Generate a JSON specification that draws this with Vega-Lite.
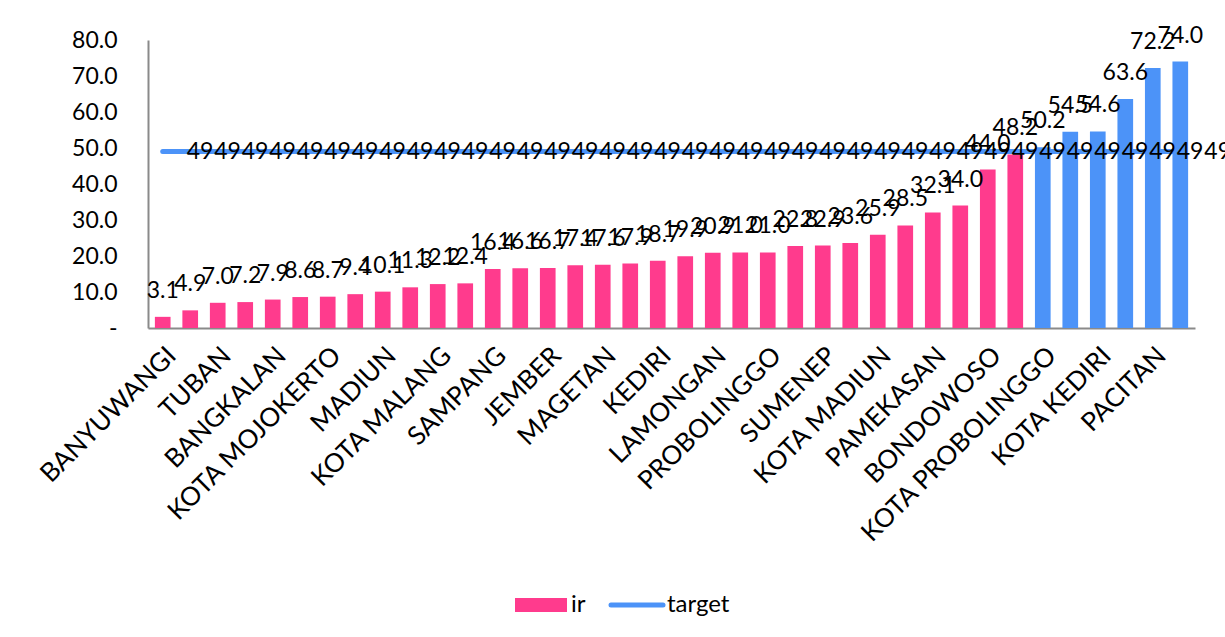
{
  "$schema": "https://vega.github.io/schema/vega-lite/v6.json",
  "width": 1047,
  "height": 288,
  "autosize": {"type": "none"},
  "padding": {"left": 148, "top": 40, "right": 30, "bottom": 309},
  "background": "white",
  "config": {
    "font": "Lato",
    "view": {"stroke": null},
    "axisY": {"labelOverlap": false, "labelSeparation": 0}
  },
  "data": {
    "values": [
      {"name": "BANYUWANGI", "ir": 3.1, "target": 49},
      {"name": "GRESIK", "ir": 4.9, "target": 49},
      {"name": "TUBAN", "ir": 7.0, "target": 49},
      {"name": "SIDOARJO", "ir": 7.2, "target": 49},
      {"name": "BANGKALAN", "ir": 7.9, "target": 49},
      {"name": "KOTA SURABAYA", "ir": 8.6, "target": 49},
      {"name": "KOTA MOJOKERTO", "ir": 8.7, "target": 49},
      {"name": "NGAWI", "ir": 9.4, "target": 49},
      {"name": "MADIUN", "ir": 10.1, "target": 49},
      {"name": "BOJONEGORO", "ir": 11.3, "target": 49},
      {"name": "KOTA MALANG", "ir": 12.2, "target": 49},
      {"name": "KOTA BATU", "ir": 12.4, "target": 49},
      {"name": "SAMPANG", "ir": 16.4, "target": 49},
      {"name": "PASURUAN", "ir": 16.6, "target": 49},
      {"name": "JEMBER", "ir": 16.7, "target": 49},
      {"name": "LUMAJANG", "ir": 17.4, "target": 49},
      {"name": "MAGETAN", "ir": 17.6, "target": 49},
      {"name": "JOMBANG", "ir": 17.9, "target": 49},
      {"name": "KEDIRI", "ir": 18.7, "target": 49},
      {"name": "NGANJUK", "ir": 19.9, "target": 49},
      {"name": "LAMONGAN", "ir": 20.9, "target": 49},
      {"name": "MALANG", "ir": 21.0, "target": 49},
      {"name": "PROBOLINGGO", "ir": 21.0, "target": 49},
      {"name": "TULUNGAGUNG", "ir": 22.8, "target": 49},
      {"name": "SUMENEP", "ir": 22.9, "target": 49},
      {"name": "MOJOKERTO", "ir": 23.6, "target": 49},
      {"name": "KOTA MADIUN", "ir": 25.9, "target": 49},
      {"name": "SITUBONDO", "ir": 28.5, "target": 49},
      {"name": "PAMEKASAN", "ir": 32.1, "target": 49},
      {"name": "BLITAR", "ir": 34.0, "target": 49},
      {"name": "BONDOWOSO", "ir": 44.0, "target": 49},
      {"name": "KOTA PASURUAN", "ir": 48.2, "target": 49},
      {"name": "KOTA PROBOLINGGO", "ir": 50.2, "target": 49},
      {"name": "TRENGGALEK", "ir": 54.5, "target": 49},
      {"name": "KOTA KEDIRI", "ir": 54.6, "target": 49},
      {"name": "PONOROGO", "ir": 63.6, "target": 49},
      {"name": "PACITAN", "ir": 72.2, "target": 49},
      {"name": "KOTA BLITAR", "ir": 74.0, "target": 49}
    ]
  },
  "encoding": {
    "x": {
      "field": "name",
      "type": "nominal",
      "sort": null,
      "title": null,
      "scale": {"paddingInner": 0.43, "paddingOuter": 0.25},
      "axis": {
        "values": ["BANYUWANGI", "TUBAN", "BANGKALAN", "KOTA MOJOKERTO", "MADIUN", "KOTA MALANG", "SAMPANG", "JEMBER", "MAGETAN", "KEDIRI", "LAMONGAN", "PROBOLINGGO", "SUMENEP", "KOTA MADIUN", "PAMEKASAN", "BONDOWOSO", "KOTA PROBOLINGGO", "KOTA KEDIRI", "PACITAN"],
        "labelAngle": -45,
        "labelAlign": "right",
        "labelBaseline": "top",
        "labelFont": "Lato",
        "labelFontSize": 26,
        "labelColor": "#000000",
        "labelPadding": 14,
        "labelLimit": 400,
        "labelOverlap": false,
        "ticks": false,
        "grid": false,
        "domainColor": "#8a8a8a",
        "domainWidth": 2
      }
    },
    "y": {
      "field": "ir",
      "type": "quantitative",
      "title": null,
      "scale": {"domain": [0, 80], "nice": false},
      "axis": {
        "values": [0, 10, 20, 30, 40, 50, 60, 70, 80],
        "labelExpr": "datum.value === 0 ? '-\u00a0\u00a0\u00a0\u00a0' : format(datum.value, '.1f')",
        "labelOverlap": false,
        "labelFont": "Lato",
        "labelFontSize": 23,
        "labelColor": "#000000",
        "labelPadding": 31,
        "ticks": false,
        "grid": false,
        "domainColor": "#8a8a8a",
        "domainWidth": 2
      }
    }
  },
  "layer": [
    {
      "mark": {"type": "bar"},
      "encoding": {
        "color": {
          "condition": {"test": "datum.ir > datum.target", "value": "#4C93F8"},
          "datum": "ir",
          "type": "nominal",
          "scale": {"domain": ["ir", "target"], "range": ["#FF3B8D", "#4C93F8"]},
          "legend": {
            "orient": "none",
            "legendX": 381,
            "legendY": 553,
            "direction": "horizontal",
            "title": null,
            "labelFont": "Lato",
            "labelFontSize": 24,
            "labelColor": "#000000",
            "labelOffset": 18,
            "columnPadding": 15,
            "symbolSize": 2704,
            "encode": {
              "symbols": {
                "update": {
                  "shape": {"signal": "datum.value === 'ir' ? 'M-1,-0.27H1V0.27H-1Z' : 'M-1,0H1'"},
                  "fill": {"signal": "datum.value === 'ir' ? '#FF3B8D' : 'transparent'"},
                  "stroke": {"signal": "datum.value === 'ir' ? 'transparent' : '#4C93F8'"},
                  "strokeWidth": {"signal": "datum.value === 'ir' ? 0 : 5"},
                  "strokeCap": {"value": "round"},
                  "opacity": {"value": 1}
                }
              }
            }
          }
        }
      }
    },
    {
      "mark": {"type": "line", "strokeWidth": 5, "strokeCap": "round"},
      "encoding": {
        "y": {"field": "target", "type": "quantitative"},
        "color": {"datum": "target", "type": "nominal"}
      }
    },
    {
      "mark": {"type": "text", "font": "Lato", "fontSize": 23, "color": "#000000", "baseline": "alphabetic", "align": "center", "dy": -19},
      "encoding": {
        "text": {"field": "ir", "type": "quantitative", "format": ".1f"}
      }
    },
    {
      "mark": {"type": "text", "font": "Lato", "fontSize": 23, "color": "#000000", "baseline": "middle", "align": "left", "dx": 24},
      "encoding": {
        "y": {"field": "target", "type": "quantitative"},
        "text": {"field": "target", "type": "quantitative", "format": "d"}
      }
    }
  ]
}
